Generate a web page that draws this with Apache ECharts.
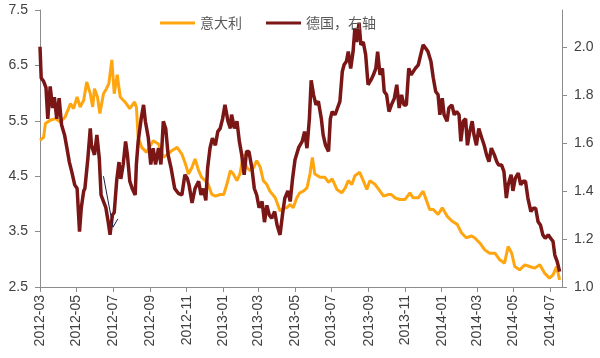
<!DOCTYPE html>
<html>
<head>
<meta charset="utf-8">
<script src="https://cdn.jsdelivr.net/npm/echarts/dist/echarts.min.js"></script>
<style>
html,body{margin:0;padding:0;background:#fff;}
#c{width:600px;height:358px;}
</style>
</head>
<body>
<div id="c"></div>
<script>
const xLabels = ['2012-03','2012-05','2012-07','2012-09','2012-11','2013-01','2013-03','2013-05','2013-07','2013-09','2013-11','2014-01','2014-03','2014-05','2014-07'];
const leftTicks = [2.5,3.5,4.5,5.5,6.5,7.5];
const rightTicks = [1.0,1.2,1.4,1.6,1.8,2.0];

const itDates = ['2012-03-01','2012-03-07','2012-03-10','2012-03-18','2012-03-27','2012-04-04','2012-04-12','2012-04-21','2012-04-26','2012-05-02',
'2012-05-07','2012-05-13','2012-05-18','2012-05-24','2012-05-28','2012-05-31','2012-06-05','2012-06-09','2012-06-15','2012-06-20',
'2012-06-24','2012-06-29','2012-07-03','2012-07-08','2012-07-13','2012-07-21','2012-07-29','2012-08-06','2012-08-09','2012-08-12',
'2012-08-18','2012-08-26','2012-09-06','2012-09-15','2012-09-23','2012-10-01','2012-10-07','2012-10-16','2012-10-24','2012-10-30',
'2012-11-04','2012-11-10','2012-11-15','2012-11-21','2012-11-26','2012-12-02','2012-12-07','2012-12-13','2012-12-19','2012-12-27',
'2013-01-02','2013-01-07','2013-01-13','2013-01-18','2013-01-24','2013-01-29','2013-02-04','2013-02-09','2013-02-15','2013-02-21',
'2013-02-26','2013-03-04','2013-03-09','2013-03-15','2013-03-20','2013-03-29','2013-04-06','2013-04-12','2013-04-17','2013-04-23',
'2013-04-28','2013-05-04','2013-05-09','2013-05-15','2013-05-21','2013-05-26','2013-05-30','2013-06-03','2013-06-12','2013-06-20',
'2013-06-26','2013-07-02','2013-07-10','2013-07-18','2013-07-24','2013-07-29','2013-08-04','2013-08-09','2013-08-17','2013-08-23',
'2013-08-29','2013-09-03','2013-09-12','2013-09-20','2013-09-26','2013-10-04','2013-10-09','2013-10-15','2013-10-23','2013-11-01',
'2013-11-09','2013-11-14','2013-11-23','2013-12-01','2013-12-07','2013-12-12','2013-12-18','2013-12-26','2014-01-02','2014-01-10',
'2014-01-18','2014-01-27','2014-02-03','2014-02-11','2014-02-20','2014-02-25','2014-03-06','2014-03-14','2014-03-22','2014-03-31',
'2014-04-08','2014-04-16','2014-04-22','2014-04-28','2014-05-03','2014-05-11','2014-05-20','2014-05-28','2014-06-05','2014-06-14',
'2014-06-22','2014-06-30','2014-07-06','2014-07-12','2014-07-17'];
const itValues = [5.15,5.2,5.45,5.51,5.54,5.48,5.57,5.81,5.72,5.93,
5.75,5.87,6.2,5.99,5.75,6.08,5.93,5.63,5.99,6.08,
6.17,6.6,5.99,6.33,5.93,5.84,5.72,5.84,5.75,5.2,
5.02,4.93,5.14,5.08,4.84,4.9,4.96,5.02,4.9,4.72,
4.54,4.66,4.81,4.6,4.48,4.42,4.35,4.17,4.14,4.17,
4.17,4.35,4.6,4.54,4.42,4.54,4.9,4.66,4.6,4.66,
4.78,4.66,4.42,4.35,4.23,4.11,3.87,3.93,3.93,3.99,
3.93,4.11,4.2,4.23,4.29,4.54,4.84,4.54,4.48,4.48,
4.39,4.45,4.26,4.2,4.29,4.42,4.35,4.51,4.57,4.42,
4.26,4.42,4.35,4.23,4.14,4.17,4.17,4.11,4.08,4.08,
4.2,4.11,4.11,4.23,4.05,3.9,3.9,3.81,3.93,3.78,
3.69,3.63,3.48,3.39,3.42,3.39,3.29,3.17,3.11,3.11,
2.99,2.93,3.23,3.11,2.87,2.81,2.9,2.87,2.84,2.9,
2.75,2.66,2.72,2.87,2.63];

const deDates = ['2012-03-01','2012-03-03','2012-03-07','2012-03-11','2012-03-14','2012-03-18','2012-03-22','2012-03-25','2012-03-29','2012-04-02',
'2012-04-06','2012-04-11','2012-04-15','2012-04-19','2012-04-23','2012-04-28','2012-05-02','2012-05-06','2012-05-09','2012-05-13',
'2012-05-15','2012-05-20','2012-05-24','2012-05-26','2012-05-31','2012-06-04','2012-06-08','2012-06-11','2012-06-15','2012-06-19',
'2012-06-23','2012-06-26','2012-06-30','2012-07-03','2012-07-07','2012-07-11','2012-07-14','2012-07-18','2012-07-22','2012-07-25',
'2012-07-29','2012-08-02','2012-08-07','2012-08-09','2012-08-12','2012-08-17','2012-08-21','2012-08-24','2012-08-29','2012-09-02',
'2012-09-06','2012-09-10','2012-09-15','2012-09-19','2012-09-23','2012-09-27','2012-10-01','2012-10-06','2012-10-12','2012-10-18',
'2012-10-24','2012-10-29','2012-11-02','2012-11-05','2012-11-10','2012-11-15','2012-11-21','2012-11-25','2012-11-29','2012-12-03',
'2012-12-06','2012-12-10','2012-12-14','2012-12-19','2012-12-23','2012-12-27','2012-12-31','2013-01-04','2013-01-09','2013-01-13',
'2013-01-15','2013-01-20','2013-01-24','2013-01-28','2013-02-01','2013-02-05','2013-02-09','2013-02-13','2013-02-18','2013-02-22',
'2013-02-26','2013-03-02','2013-03-07','2013-03-11','2013-03-15','2013-03-19','2013-03-23','2013-03-28','2013-04-01','2013-04-06',
'2013-04-10','2013-04-14','2013-04-19','2013-04-23','2013-04-27','2013-05-01','2013-05-07','2013-05-13','2013-05-17','2013-05-21',
'2013-05-25','2013-05-28','2013-06-01','2013-06-05','2013-06-09','2013-06-14','2013-06-17','2013-06-21','2013-06-26','2013-06-29',
'2013-07-02','2013-07-07','2013-07-11','2013-07-15','2013-07-19','2013-07-22','2013-07-26','2013-07-29','2013-08-02','2013-08-06',
'2013-08-09','2013-08-12','2013-08-16','2013-08-19','2013-08-23','2013-08-27','2013-08-31','2013-09-05','2013-09-09','2013-09-13',
'2013-09-16','2013-09-20','2013-09-24','2013-09-27','2013-10-01','2013-10-05','2013-10-09','2013-10-14','2013-10-18','2013-10-22',
'2013-10-26','2013-10-30','2013-11-03','2013-11-07','2013-11-11','2013-11-14','2013-11-18','2013-11-23','2013-11-27','2013-12-01',
'2013-12-05','2013-12-09','2013-12-14','2013-12-18','2013-12-22','2013-12-26','2013-12-29','2014-01-02','2014-01-05','2014-01-10',
'2014-01-13','2014-01-18','2014-01-22','2014-01-26','2014-01-30','2014-02-02','2014-02-06','2014-02-10','2014-02-13','2014-02-17',
'2014-02-21','2014-02-24','2014-02-28','2014-03-04','2014-03-09','2014-03-13','2014-03-17','2014-03-21','2014-03-25','2014-03-30',
'2014-04-03','2014-04-06','2014-04-11','2014-04-15','2014-04-19','2014-04-22','2014-04-27','2014-04-30','2014-05-04','2014-05-09',
'2014-05-13','2014-05-17','2014-05-21','2014-05-25','2014-05-30','2014-06-03','2014-06-07','2014-06-11','2014-06-15','2014-06-19',
'2014-06-23','2014-06-28','2014-07-02','2014-07-06','2014-07-09','2014-07-13','2014-07-17'];
const deValues = [2.0,1.87,1.856,1.83,1.70,1.835,1.745,1.79,1.70,1.786,
1.675,1.633,1.578,1.52,1.48,1.425,1.41,1.23,1.33,1.40,
1.41,1.536,1.66,1.59,1.55,1.633,1.536,1.383,1.356,1.33,
1.27,1.217,1.30,1.31,1.44,1.52,1.45,1.51,1.606,1.55,
1.44,1.41,1.383,1.51,1.606,1.70,1.758,1.69,1.62,1.51,
1.578,1.51,1.578,1.51,1.69,1.66,1.55,1.495,1.41,1.39,
1.383,1.467,1.453,1.425,1.35,1.41,1.44,1.383,1.41,1.36,
1.495,1.578,1.62,1.59,1.647,1.66,1.70,1.758,1.69,1.66,
1.717,1.66,1.69,1.606,1.55,1.467,1.564,1.564,1.495,1.41,
1.383,1.33,1.356,1.27,1.34,1.30,1.286,1.314,1.258,1.217,
1.30,1.37,1.40,1.356,1.453,1.53,1.58,1.606,1.647,1.578,
1.70,1.86,1.80,1.758,1.773,1.70,1.633,1.59,1.564,1.70,
1.73,1.717,1.745,1.773,1.897,1.925,1.94,1.98,1.91,1.98,
2.078,2.02,2.10,2.008,2.02,1.967,1.842,1.862,1.883,1.91,
1.98,1.883,1.91,1.814,1.80,1.73,1.758,1.786,1.842,1.745,
1.80,1.758,1.758,1.91,1.883,1.883,1.91,1.925,1.967,2.008,
1.995,1.98,1.94,1.87,1.814,1.80,1.717,1.786,1.717,1.69,
1.745,1.758,1.717,1.73,1.717,1.606,1.69,1.70,1.59,1.647,
1.69,1.633,1.59,1.66,1.62,1.59,1.55,1.522,1.578,1.55,
1.522,1.508,1.508,1.48,1.37,1.425,1.467,1.40,1.453,1.474,
1.425,1.44,1.44,1.37,1.314,1.328,1.328,1.272,1.258,1.217,
1.203,1.217,1.203,1.19,1.133,1.106,1.064];

const noteDates = ['2012-06-15','2012-07-01','2012-07-09'];
const noteValues = [4.5,3.58,3.73];

const seriesNames = ['意大利','德国，右轴'];
const xMinDate = '2012-03-01';
const xMaxDate = '2014-07-21';

function ts(s){const p=s.split('-').map(Number);return Date.UTC(p[0],p[1]-1,p[2]||1);}
function pairs(d,v){const out=[];const n=Math.min(d.length,v.length);for(let i=0;i<n;i++)out.push([ts(d[i]),v[i]]);return out;}
const xTickVals = xLabels.map(ts);
function fmtMonth(val){const d=new Date(val);const m=d.getUTCMonth()+1;return d.getUTCFullYear()+'-'+(m<10?'0'+m:m);}

const axisColor = '#8c8c8c';
const labelColor = '#404040';
const latin = 'Liberation Sans, Arial, sans-serif';

const chart = echarts.init(document.getElementById('c'), null, {renderer:'canvas'});
chart.setOption({
  animation:false,
  backgroundColor:'#ffffff',
  grid:{left:40,right:38,top:10,bottom:71,containLabel:false},
  legend:{
    data:seriesNames,
    left:155, top:11,
    icon:'rect', itemWidth:35, itemHeight:3, itemGap:24,
    textStyle:{fontSize:14,color:'#595959',fontFamily:'Noto Sans CJK SC, sans-serif'}
  },
  xAxis:{
    type:'value',
    min:ts(xMinDate), max:ts(xMaxDate),
    axisLine:{show:true,onZero:false,lineStyle:{color:axisColor,width:1}},
    axisTick:{show:true,customValues:xTickVals,length:5,lineStyle:{color:axisColor}},
    axisLabel:{customValues:xTickVals,rotate:90,margin:8,formatter:fmtMonth,color:labelColor,fontSize:14,fontFamily:latin},
    splitLine:{show:false}
  },
  yAxis:[
    {type:'value',position:'left',min:2.5,max:7.5,
     axisLine:{show:true,lineStyle:{color:axisColor,width:1}},
     axisTick:{show:true,length:5,customValues:leftTicks,lineStyle:{color:axisColor}},
     axisLabel:{customValues:leftTicks,margin:12,formatter:v=>Number(v).toFixed(1),color:labelColor,fontSize:14,fontFamily:latin},
     splitLine:{show:false}},
    {type:'value',position:'right',min:1.0,max:2.153,
     axisLine:{show:true,lineStyle:{color:axisColor,width:1}},
     axisTick:{show:true,length:5,customValues:rightTicks,lineStyle:{color:axisColor}},
     axisLabel:{customValues:rightTicks,margin:12,formatter:v=>Number(v).toFixed(1),color:labelColor,fontSize:14,fontFamily:latin},
     splitLine:{show:false}}
  ],
  series:[
    {name:seriesNames[0],type:'line',yAxisIndex:0,data:pairs(itDates,itValues),
     symbol:'none',lineStyle:{color:'#FFA50F',width:3},itemStyle:{color:'#FFA50F'},z:2},
    {name:seriesNames[1],type:'line',yAxisIndex:1,data:pairs(deDates,deValues),
     symbol:'none',lineStyle:{color:'#7A1616',width:3.5},itemStyle:{color:'#7A1616'},z:3},
    {name:'note',type:'line',yAxisIndex:0,data:pairs(noteDates,noteValues),
     symbol:'none',silent:true,lineStyle:{color:'#1c1c4a',width:1},z:4}
  ]
});
</script>
</body>
</html>
